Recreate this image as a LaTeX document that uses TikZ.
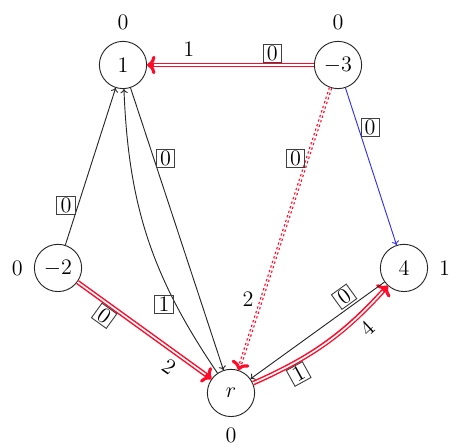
\documentclass[tikz,border=0pt]{standalone}
\usepackage{tikz}
\usepackage{xcolor}
\usepackage{amsmath}
\usetikzlibrary{arrows.meta}
\usetikzlibrary{positioning}
\definecolor{colorRouge}{HTML}{FF0A28}
\definecolor{colorBleu}{HTML}{2E2EFF}
\def\colorRouge{colorRouge}
\def\colorBleu{colorBleu}

\begin{document}
\begin{tikzpicture}[
  font=\fontsize{11.5pt}{14pt}\selectfont,
  label distance=2.5pt,
  sommet/.style={circle, draw=black!85, line width=0.5pt, minimum size=0.9cm, inner sep=0pt},
  cout/.style={draw=black!75, solid, line width=0.5pt, text=black, inner xsep=2pt,
               inner ysep=1pt, outer sep=1.5pt, pos=0.25},
  flot/.style={text=black, pos=0.75},
  arc/.style={-{To[length=2.2pt, width=4pt]}, black!85, line width=0.5pt},
  % trait rouge creux : trait epais + trait blanc fin par-dessus
  arcflot/.style={-{To[length=4.5pt, width=10pt, line width=1.7pt]}, \colorRouge, line width=2.5pt,
                  postaction={draw=white, line width=0.9pt, -, shorten >=4pt}},
  arcpointille/.style={-{To[length=4.5pt, width=10pt, line width=1.7pt]}, \colorRouge,
                  line width=1.9pt, dash pattern=on 1.2pt off 1.4pt,
                  postaction={draw=white, line width=0.6pt, -, shorten >=4pt}}
]

  % Cadre de l'image
  \useasboundingbox (0,0) rectangle (8.781,8.533);

  % Sommets avec leurs potentiels
  \node[sommet, label=above:$0$] (n1) at (2.343,7.295) {$1$};
  \node[sommet, label=above:$0$] (n3) at (6.438,7.295) {$-3$};
  \node[sommet, label=left:$0$]  (n2) at (1.105,3.429) {$-2$};
  \node[sommet, label=right:$1$] (n4) at (7.695,3.429) {$4$};
  \node[sommet, label=below:$0$] (r)  at (4.400,1.048) {$r$};

  % Arcs de l'arbre (flot)
  \draw[arcflot] (n3) -- node[cout, above]{$0$} node[flot, above]{$1$} (n1);
  \draw[arcpointille] (n3) -- node[cout, left]{$0$} node[flot, left]{$2$} (r);
  \draw[arcflot] (n2) -- node[cout, sloped, below]{$0$} node[flot, sloped, below]{$2$} (r);
  \draw[arcflot] (r) to[bend right=12] node[cout, sloped, below]{$1$} node[flot, sloped, below]{$4$} (n4);

  % Autres arcs
  \draw[arc, \colorBleu] (n3) -- node[cout, right]{$0$} (n4);
  \draw[arc] (n2) -- node[cout, left]{$0$} (n1);
  \draw[arc] (n1) -- node[cout, right]{$0$} (r);
  \draw[arc] (r) to[bend left=16] node[cout, left]{$1$} (n1);
  \draw[arc] (n4) -- node[cout, sloped, above]{$0$} (r);

\end{tikzpicture}
\end{document}
